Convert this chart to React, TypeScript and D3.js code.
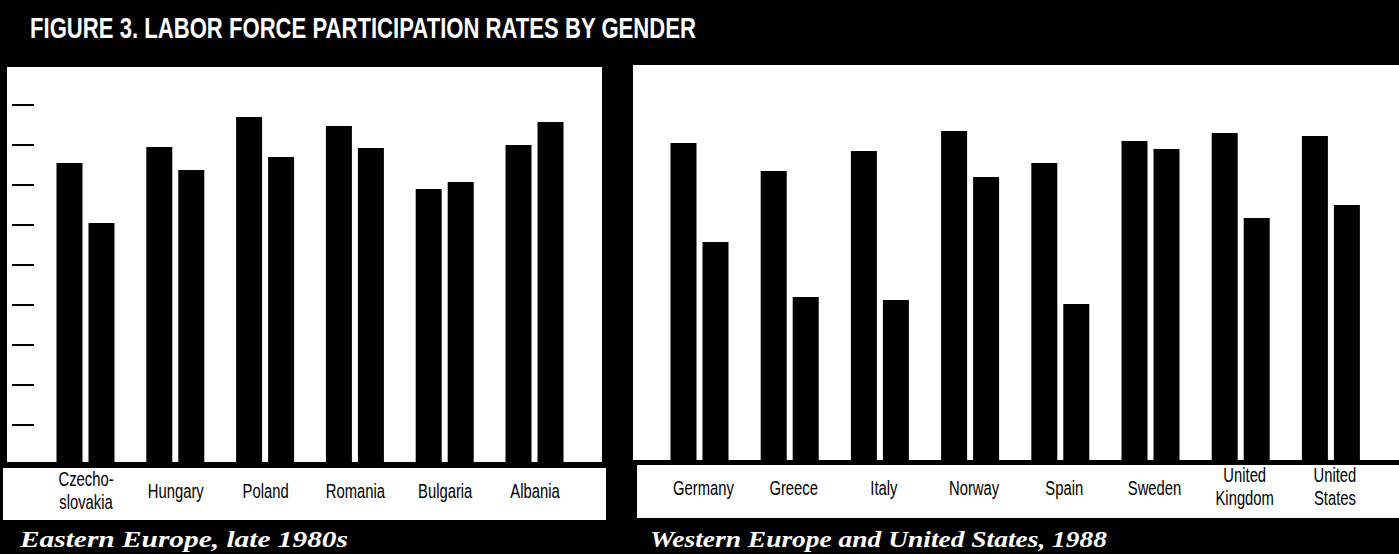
import React from "react";
import * as d3 from "d3";

const title = "FIGURE 3. LABOR FORCE PARTICIPATION RATES BY GENDER";
const seriesNames = ["Men", "Women"];

const eastCountries = [["Czecho-", "slovakia"], ["Hungary"], ["Poland"], ["Romania"], ["Bulgaria"], ["Albania"]];
const eastMen = [75.5, 79.5, 87, 84.75, 69, 80];
const eastWomen = [60.5, 73.75, 77, 79.25, 70.75, 85.75];
const eastSubtitle = "Eastern Europe, late 1980s";

const westCountries = [["Germany"], ["Greece"], ["Italy"], ["Norway"], ["Spain"], ["Sweden"], ["United", "Kingdom"], ["United", "States"]];
const westMen = [80.5, 73.5, 78.5, 83.5, 75.5, 81, 83, 82.25];
const westWomen = [55.75, 42, 41.25, 72, 40.25, 79, 61.75, 65];
const westSubtitle = "Western Europe and United States, 1988";

const yTicks = [10, 20, 30, 40, 50, 60, 70, 80, 90];

const W = 1399;
const H = 554;

type PanelProps = {
  countries: string[][];
  men: number[];
  women: number[];
  x0: number;
  x1: number;
  rangeStart: number;
  rangeEnd: number;
  top: number;
  plotBottom: number;
  stripTop: number;
  stripBottom: number;
  stripX0: number;
  stripX1: number;
  yBase: number;
  singleY: number;
  doubleY: [number, number];
  labelShift: number;
  ticks: boolean;
};

function Panel(p: PanelProps) {
  const names = p.countries.map((c) => c.join(" "));
  const x = d3.scaleBand<string>().domain(names).range([p.rangeStart, p.rangeEnd]).paddingInner(0).paddingOuter(0);
  const pairWidth = 58;
  const sub = d3.scaleBand<string>().domain(seriesNames).range([0, pairWidth]).paddingInner(0.1875).paddingOuter(0);
  const y = d3.scaleLinear().domain([0, 100]).range([p.yBase, p.yBase - 400]);
  const offset = (x.bandwidth() - pairWidth) / 2;
  const data = names.map((n, i) => ({ n, vals: [p.men[i], p.women[i]], lines: p.countries[i] }));
  return (
    <g>
      <rect x={p.x0} y={p.top} width={p.x1 - p.x0} height={p.plotBottom - p.top} fill="#fff" />
      {p.ticks &&
        yTicks.map((t) => (
          <line key={t} x1={12} x2={34} y1={y(t)} y2={y(t)} stroke="#000" strokeWidth={2} />
        ))}
      {data.map((d) => (
        <g key={d.n}>
          {d.vals.map((v, j) => (
            <rect
              key={j}
              x={(x(d.n) as number) + offset + (sub(seriesNames[j]) as number)}
              y={y(v)}
              width={sub.bandwidth()}
              height={p.plotBottom - y(v)}
              fill="#000"
            />
          ))}
        </g>
      ))}
      <rect x={p.stripX0} y={p.stripTop} width={p.stripX1 - p.stripX0} height={p.stripBottom - p.stripTop} fill="#fff" />
      {data.map((d) => {
        const cx = (x(d.n) as number) + x.bandwidth() / 2 + p.labelShift;
        const ys = d.lines.length === 1 ? [p.singleY] : p.doubleY;
        return (
          <text
            key={d.n}
            transform={`translate(${cx},${ys[0]}) scale(0.76,1)`}
            textAnchor="middle"
            fontFamily="'Liberation Sans', Arial, sans-serif"
            fontSize={19.5}
            fill="#000"
          >
            {d.lines.map((ln, k) => (
              <tspan key={k} x={0} y={ys[k] - ys[0]}>
                {ln}
              </tspan>
            ))}
          </text>
        );
      })}
    </g>
  );
}

export default function App() {
  return (
    <svg
      width={W}
      height={H}
      viewBox={`0 0 ${W} ${H}`}
      style={{ position: "absolute", left: 0, top: 0, display: "block" }}
    >
      <rect x={0} y={0} width={W} height={H} fill="#000" />
      <text
        x={30}
        y={38}
        textLength={666}
        lengthAdjust="spacingAndGlyphs"
        fontFamily="'Liberation Sans', Arial, sans-serif"
        fontWeight="bold"
        fontSize={30}
        fill="#fff"
      >
        {title}
      </text>
      <Panel
        countries={eastCountries}
        men={eastMen}
        women={eastWomen}
        x0={7}
        x1={602}
        rangeStart={40.6}
        rangeEnd={579.4}
        top={67}
        plotBottom={462}
        stripTop={468}
        stripBottom={520}
        stripX0={3}
        stripX1={606}
        yBase={465}
        singleY={498}
        doubleY={[486, 509]}
        labelShift={0.5}
        ticks={true}
      />
      <Panel
        countries={westCountries}
        men={westMen}
        women={westWomen}
        x0={633}
        x1={1399}
        rangeStart={654.4}
        rangeEnd={1376}
        top={65}
        plotBottom={460}
        stripTop={465}
        stripBottom={518}
        stripX0={637}
        stripX1={1399}
        yBase={465}
        singleY={495}
        doubleY={[482, 505]}
        labelShift={4}
        ticks={false}
      />
      <text
        x={20}
        y={547}
        textLength={328}
        lengthAdjust="spacingAndGlyphs"
        fontFamily="'Liberation Serif', 'DejaVu Serif', serif"
        fontWeight="bold"
        fontStyle="italic"
        fontSize={23}
        fill="#fff"
      >
        {eastSubtitle}
      </text>
      <text
        x={650}
        y={547}
        textLength={457}
        lengthAdjust="spacingAndGlyphs"
        fontFamily="'Liberation Serif', 'DejaVu Serif', serif"
        fontWeight="bold"
        fontStyle="italic"
        fontSize={23}
        fill="#fff"
      >
        {westSubtitle}
      </text>
    </svg>
  );
}
